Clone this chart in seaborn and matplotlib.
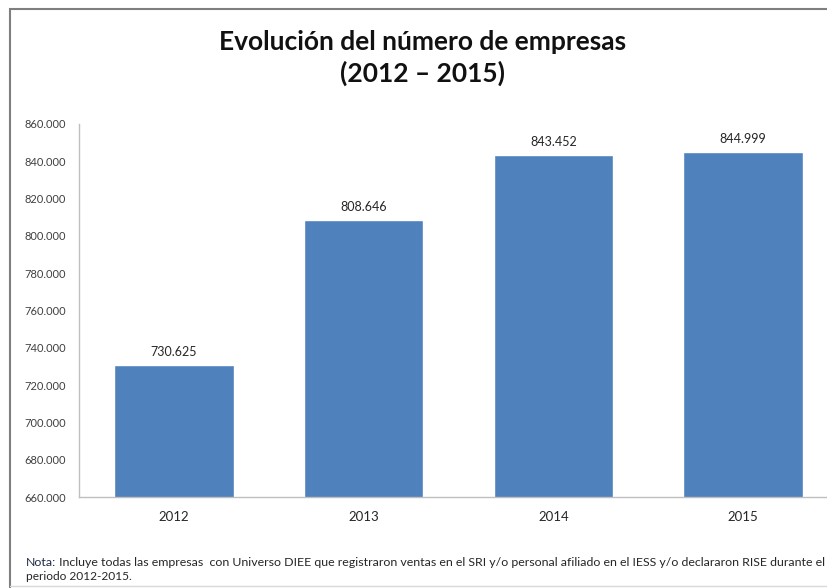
import matplotlib
matplotlib.use("Agg")
import matplotlib.pyplot as plt
import seaborn as sns
import pandas as pd
from matplotlib.patches import Rectangle
from matplotlib.lines import Line2D

years = ["2012", "2013", "2014", "2015"]
empresas = [730625, 808646, 843452, 844999]
yticks = [660000, 680000, 700000, 720000, 740000, 760000, 780000, 800000, 820000, 840000, 860000]

title = "Evolución del número de empresas\n(2012 – 2015)"
note_label = "Nota:"
note_text = (" Incluye todas las empresas  con Universo DIEE que registraron ventas en el SRI y/o "
             "personal afiliado en el IESS y/o declararon RISE durante el")
note_line2 = "periodo 2012-2015."

def fmt(v):
    return f"{v:,.0f}".replace(",", ".")

sns.set_theme(style="white")
plt.rcParams['font.family'] = ['Lato', 'DejaVu Sans']

W, H = 828, 588
fig = plt.figure(figsize=(W / 100, H / 100), dpi=100)
fig.patch.set_facecolor("white")

# outer frame
fig.add_artist(Rectangle((10 / W, -0.05), 1.1, 1 - 9 / H + 0.05, transform=fig.transFigure,
                         fill=False, edgecolor="#7f7f7f", linewidth=1.5))
fig.add_artist(Line2D([10 / W, 1], [1 - 586 / H, 1 - 586 / H], transform=fig.transFigure,
                      color="#d9d9d9", linewidth=1))

left, right = 79 / W, 838 / W
bottom, top = 1 - 497 / H, 1 - 124 / H
ax = fig.add_axes([left, bottom, right - left, top - bottom])

df = pd.DataFrame({"year": years, "empresas": empresas})
sns.barplot(data=df, x="year", y="empresas", color="#4F81BD", saturation=1, width=0.63, ax=ax)

ax.set_ylim(yticks[0], yticks[-1])
ax.set_xlim(-0.5, len(years) - 0.5)
ax.set_yticks(yticks)
ax.set_yticklabels([fmt(t) for t in yticks], fontsize=8, color="#404040")
ax.set_xticks(range(len(years)))
ax.set_xticklabels(years, fontsize=9.5, color="#262626")
ax.tick_params(axis="both", length=0)
ax.tick_params(axis="y", pad=9.5)
ax.tick_params(axis="x", pad=10)
ax.set_xlabel("")
ax.set_ylabel("")
for s in ["top", "right"]:
    ax.spines[s].set_visible(False)
for s in ["left", "bottom"]:
    ax.spines[s].set_color("#bfbfbf")
    ax.spines[s].set_linewidth(1)

for i, v in enumerate(empresas):
    ax.annotate(fmt(v), (i, v), xytext=(0, 5), textcoords="offset points",
                ha="center", va="bottom", fontsize=9, color="#262626")

fig.text(423 / W, 1 - 58 / H, title, ha="center", va="center", fontsize=19,
         fontweight="bold", color="#111111", linespacing=1.3)

t1 = fig.text(26 / W, 1 - 563 / H, note_label, ha="left", va="center", fontsize=8.9, color="#1f2a44")
fig.canvas.draw()
bb = t1.get_window_extent()
fig.text(bb.x1 / W, 1 - 563 / H, note_text, ha="left", va="center", fontsize=8.9, color="#262626")
fig.text(26 / W, 1 - 577 / H, note_line2, ha="left", va="center", fontsize=8.6, color="#262626")

fig.savefig("out.png", dpi=100)
